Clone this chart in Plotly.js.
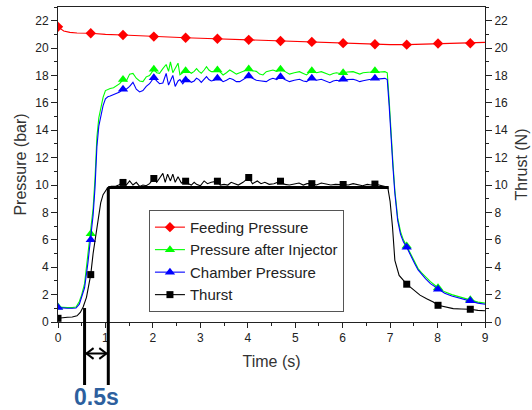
<!DOCTYPE html>
<html>
<head>
<meta charset="utf-8">
<script src="https://cdn.plot.ly/plotly-3.0.1.min.js"></script>
<style>html,body{margin:0;padding:0;background:#fff;}#chart{width:532px;height:410px;}</style>
</head>
<body>
<div id="chart"></div>
<script>
// ---------- data ----------
// Feeding pressure (bar)
const feedTime = [0, 0.05, 0.12, 0.25, 0.4, 0.69, 1.0, 1.37, 1.7, 2.02, 2.35, 2.69, 3.0, 3.36, 3.7, 4.02, 4.35, 4.69, 5.0, 5.35, 5.7, 6.01, 6.35, 6.68, 7.0, 7.35, 7.7, 8.01, 8.35, 8.69, 9.0];
const feedPressure = [21.55, 21.4, 21.25, 21.15, 21.1, 21.08, 21.0, 20.96, 20.9, 20.84, 20.8, 20.75, 20.72, 20.68, 20.63, 20.6, 20.56, 20.52, 20.5, 20.45, 20.4, 20.36, 20.3, 20.28, 20.25, 20.25, 20.28, 20.33, 20.33, 20.35, 20.42];

// Pressure after injector and chamber pressure (bar)
const presTime = [0, 0.1, 0.2, 0.3, 0.38, 0.45, 0.5, 0.56, 0.63, 0.69, 0.74, 0.78, 0.82, 0.86, 0.9, 0.95, 1.0, 1.05, 1.1, 1.17, 1.25, 1.3, 1.37, 1.44, 1.51, 1.58, 1.65, 1.72, 1.79, 1.86, 1.93, 2.02, 2.08, 2.14, 2.21, 2.28, 2.33, 2.37, 2.42, 2.47, 2.53, 2.57, 2.63, 2.69, 2.75, 2.81, 2.87, 2.92, 2.97, 3.02, 3.08, 3.13, 3.18, 3.23, 3.29, 3.36, 3.42, 3.48, 3.55, 3.62, 3.69, 3.76, 3.83, 3.9, 3.96, 4.02, 4.1, 4.18, 4.25, 4.32, 4.39, 4.46, 4.53, 4.61, 4.69, 4.78, 4.88, 4.98, 5.09, 5.17, 5.24, 5.34, 5.45, 5.55, 5.64, 5.73, 5.8, 5.87, 5.94, 6.01, 6.1, 6.22, 6.29, 6.36, 6.43, 6.5, 6.59, 6.68, 6.78, 6.89, 6.94, 6.98, 7.02, 7.06, 7.1, 7.16, 7.22, 7.28, 7.35, 7.44, 7.52, 7.59, 7.66, 7.75, 7.85, 8.01, 8.15, 8.3, 8.4, 8.55, 8.7, 8.85, 9.0];
const injectorPressure = [1.1, 1.05, 1.05, 1.05, 1.1, 1.5, 2.0, 2.8, 4.8, 6.45, 8.3, 10.5, 13.5, 14.9, 15.6, 16.4, 16.9, 17.0, 17.05, 17.1, 17.3, 17.4, 17.7, 17.6, 18.1, 18.15, 17.8, 17.6, 17.55, 17.9, 18.0, 18.45, 18.2, 18.16, 18.5, 18.8, 18.3, 19.0, 18.2, 18.5, 18.9, 18.05, 18.2, 18.35, 18.3, 18.16, 18.3, 18.5, 18.3, 18.16, 18.4, 18.64, 18.4, 18.28, 18.3, 18.4, 18.25, 18.04, 18.2, 18.4, 18.25, 18.1, 18.2, 18.3, 18.35, 18.47, 18.35, 18.3, 18.1, 18.04, 18.28, 18.35, 18.4, 18.3, 18.45, 18.3, 18.1, 18.2, 18.28, 18.15, 18.04, 18.35, 18.2, 18.28, 18.15, 18.04, 18.15, 18.2, 18.15, 18.2, 18.25, 18.28, 18.2, 18.1, 18.2, 18.2, 18.25, 18.35, 18.25, 18.28, 18.2, 16.2, 13.6, 11.6, 9.6, 7.6, 6.6, 6.0, 5.55, 4.9, 4.4, 3.9, 3.6, 3.3, 2.95, 2.5, 2.2, 2.0, 1.9, 1.75, 1.62, 1.45, 1.38];
const chamberPressure = [1.05, 1.0, 1.0, 1.0, 1.02, 1.3, 1.8, 2.5, 4.3, 6.0, 7.8, 9.8, 12.8, 14.3, 15.0, 15.8, 16.3, 16.45, 16.5, 16.6, 16.7, 16.8, 17.0, 17.0, 17.2, 17.5, 17.0, 16.8, 16.9, 17.2, 17.4, 17.84, 17.6, 17.4, 17.45, 18.15, 17.3, 17.6, 18.0, 17.2, 17.6, 17.7, 17.4, 17.67, 17.7, 17.5, 17.6, 17.8, 17.7, 17.5, 17.75, 17.92, 17.7, 17.6, 17.65, 17.8, 17.7, 17.55, 17.65, 17.79, 17.7, 17.55, 17.55, 17.7, 17.8, 17.96, 17.8, 17.65, 17.62, 17.6, 17.55, 17.7, 17.79, 17.7, 17.9, 17.7, 17.55, 17.65, 17.72, 17.6, 17.55, 17.8, 17.65, 17.72, 17.6, 17.47, 17.6, 17.65, 17.6, 17.72, 17.7, 17.72, 17.65, 17.55, 17.62, 17.65, 17.72, 17.8, 17.75, 17.79, 17.7, 15.8, 13.2, 11.3, 9.4, 7.4, 6.4, 5.85, 5.45, 4.75, 4.25, 3.8, 3.5, 3.15, 2.8, 2.4, 2.1, 1.9, 1.8, 1.65, 1.55, 1.38, 1.3];

// Thrust (N)
const thrustTime = [0, 0.1, 0.2, 0.3, 0.4, 0.47, 0.53, 0.6, 0.69, 0.74, 0.78, 0.82, 0.86, 0.9, 0.95, 1.0, 1.05, 1.12, 1.2, 1.28, 1.37, 1.44, 1.51, 1.58, 1.65, 1.72, 1.79, 1.86, 1.93, 2.02, 2.08, 2.14, 2.21, 2.26, 2.31, 2.37, 2.42, 2.47, 2.53, 2.6, 2.69, 2.75, 2.81, 2.87, 2.92, 3.0, 3.08, 3.15, 3.23, 3.36, 3.42, 3.5, 3.58, 3.65, 3.72, 3.8, 3.9, 4.02, 4.1, 4.2, 4.28, 4.36, 4.45, 4.55, 4.69, 4.78, 4.88, 4.98, 5.08, 5.17, 5.25, 5.34, 5.45, 5.55, 5.65, 5.75, 5.85, 6.01, 6.12, 6.22, 6.32, 6.42, 6.52, 6.6, 6.68, 6.78, 6.88, 6.95, 7.0, 7.05, 7.1, 7.19, 7.35, 7.5, 7.63, 7.77, 7.91, 8.01, 8.15, 8.33, 8.5, 8.69, 8.85, 9.0];
const thrust = [0.27, 0.33, 0.35, 0.37, 0.45, 0.7, 1.1, 1.8, 3.46, 5.0, 6.0, 7.0, 7.8, 8.7, 9.3, 9.6, 9.82, 9.9, 9.9, 10.0, 10.19, 10.0, 10.3, 10.0, 10.2, 9.9, 10.0, 9.95, 10.1, 10.48, 10.2, 10.5, 10.85, 10.2, 10.8, 10.3, 10.8, 10.2, 10.6, 10.15, 10.28, 10.1, 10.0, 10.2, 10.05, 9.95, 10.3, 10.1, 10.2, 10.28, 10.0, 10.05, 10.0, 10.2, 10.1, 10.0, 10.2, 10.55, 10.1, 10.3, 10.1, 10.2, 10.05, 10.1, 10.28, 10.05, 10.0, 10.1, 10.15, 10.0, 10.1, 10.1, 10.0, 10.15, 10.05, 10.0, 10.05, 10.04, 10.0, 10.1, 10.0, 9.95, 10.05, 10.0, 10.07, 10.0, 9.95, 9.85, 8.8, 6.95, 4.5, 3.4, 2.76, 2.3, 1.96, 1.7, 1.46, 1.22, 1.1, 0.98, 0.95, 0.93, 0.85, 0.82];

// Symbol positions (every ~2/3 s)
const markerTime = [0, 0.69, 1.37, 2.02, 2.69, 3.36, 4.02, 4.69, 5.35, 6.01, 6.68, 7.35, 8.01, 8.69];
const feedMarkers = [21.55, 21.08, 20.96, 20.84, 20.75, 20.68, 20.6, 20.52, 20.45, 20.36, 20.28, 20.25, 20.33, 20.35];
const injectorMarkers = [1.1, 6.45, 17.7, 18.45, 18.35, 18.4, 18.47, 18.45, 18.35, 18.2, 18.35, 5.55, 2.5, 1.62];
const chamberMarkers = [1.05, 6.0, 17.0, 17.84, 17.67, 17.8, 17.96, 17.9, 17.8, 17.72, 17.8, 5.45, 2.4, 1.55];
const thrustMarkers = [0.27, 3.46, 10.19, 10.48, 10.28, 10.28, 10.55, 10.28, 10.1, 10.04, 10.07, 2.76, 1.22, 0.93];

// Idealised thrust step and 0.5 s delay annotation
const ignitionTime = 0.56, stepTime = 1.06, stepEnd = 6.97, stepLevel = 9.82, ignitionLevel = 1.02;
const seriesNames = ['Feeding Pressure', 'Pressure after Injector', 'Chamber Pressure', 'Thurst'];
const delayLabel = '0.5s';

// ---------- chart ----------
const FONT = 'Arial, "Liberation Sans", sans-serif';
const YMAX = 23;
const styles = [
  {color: '#ff0000', symbol: 'diamond', size: 8, yaxis: 'y'},
  {color: '#00ff00', symbol: 'triangle-up', size: 9, yaxis: 'y'},
  {color: '#0000ff', symbol: 'triangle-up', size: 9, yaxis: 'y'},
  {color: '#000000', symbol: 'square', size: 7, yaxis: 'y2'}
];
const series = [
  [feedTime, feedPressure, feedMarkers],
  [presTime, injectorPressure, injectorMarkers],
  [presTime, chamberPressure, chamberMarkers],
  [thrustTime, thrust, thrustMarkers]
];
const traces = [];
series.forEach((s, i) => {
  const st = styles[i];
  traces.push({x: s[0], y: s[1], yaxis: st.yaxis, mode: 'lines', showlegend: false,
    line: {color: st.color, width: 1.1}, hoverinfo: 'skip'});
  traces.push({x: markerTime, y: s[2], yaxis: st.yaxis, mode: 'markers', showlegend: false,
    marker: {color: st.color, symbol: st.symbol, size: st.size}});
});
series.forEach((s, i) => {
  const st = styles[i];
  traces.push({x: [null], y: [null], yaxis: st.yaxis, name: seriesNames[i], mode: 'lines+markers',
    line: {color: st.color, width: 1.1}, marker: {color: st.color, symbol: st.symbol, size: st.size}});
});

const axisCommon = {
  showline: true, linecolor: '#222', linewidth: 1, ticks: 'outside', tickcolor: '#222',
  tickfont: {family: FONT, size: 12, color: '#222'}, zeroline: false, showgrid: false
};
const low = -0.2; // paper y where the thick markers end below the axis
const arrowY = -0.1;
const layout = {
  width: 532, height: 410,
  margin: {l: 58, r: 47, t: 7, b: 88},
  paper_bgcolor: '#fff', plot_bgcolor: '#fff',
  font: {family: FONT, color: '#333'},
  showlegend: true,
  legend: {x: 0.213, y: 0.194, xanchor: 'left', yanchor: 'middle', bgcolor: '#fff',
    bordercolor: '#555', borderwidth: 1, font: {family: FONT, size: 15, color: '#222'},
    tracegroupgap: 0},
  xaxis: Object.assign({}, axisCommon, {range: [0, 9], dtick: 1, ticklen: 5, mirror: true,
    minor: {dtick: 0.5, ticks: 'outside', ticklen: 3, tickcolor: '#222'},
    title: {text: 'Time (s)', font: {family: FONT, size: 16, color: '#333'}, standoff: 11}}),
  yaxis: Object.assign({}, axisCommon, {range: [0, YMAX], dtick: 2, ticklen: 6,
    minor: {dtick: 1, ticks: 'outside', ticklen: 3, tickcolor: '#222'},
    title: {text: 'Pressure (bar)', font: {family: FONT, size: 16, color: '#333'}, standoff: 4}}),
  yaxis2: Object.assign({}, axisCommon, {range: [0, YMAX], dtick: 2, ticklen: 6, overlaying: 'y', side: 'right',
    minor: {dtick: 1, ticks: 'outside', ticklen: 3, tickcolor: '#222'},
    title: {text: 'Thrust (N)', font: {family: FONT, size: 16, color: '#333'}, standoff: 8}}),
  shapes: [
    {type: 'line', xref: 'x', yref: 'y', x0: stepTime, x1: stepEnd, y0: stepLevel, y1: stepLevel,
      line: {color: '#000', width: 3}, layer: 'below'},
    {type: 'line', xref: 'x', yref: 'paper', x0: stepTime, x1: stepTime, y0: low, y1: stepLevel / YMAX,
      line: {color: '#000', width: 3}},
    {type: 'line', xref: 'x', yref: 'paper', x0: ignitionTime, x1: ignitionTime, y0: low, y1: ignitionLevel / YMAX,
      line: {color: '#000', width: 3}},
    {type: 'line', xref: 'x', yref: 'paper', x0: ignitionTime + 0.03, x1: stepTime - 0.03, y0: arrowY, y1: arrowY,
      line: {color: '#000', width: 2}},
    {type: 'path', xref: 'x', yref: 'paper',
      path: `M ${ignitionTime + 0.19},${arrowY + 0.017} L ${ignitionTime + 0.04},${arrowY} L ${ignitionTime + 0.19},${arrowY - 0.017}`,
      line: {color: '#000', width: 2}},
    {type: 'path', xref: 'x', yref: 'paper',
      path: `M ${stepTime - 0.19},${arrowY + 0.017} L ${stepTime - 0.04},${arrowY} L ${stepTime - 0.19},${arrowY - 0.017}`,
      line: {color: '#000', width: 2}}
  ],
  annotations: [
    {xref: 'x', yref: 'paper', x: (ignitionTime + stepTime) / 2, y: -0.238, text: '<b>' + delayLabel + '</b>',
      showarrow: false, font: {family: FONT, size: 23, color: '#2d5f9e'}, xanchor: 'center', yanchor: 'middle'}
  ]
};
Plotly.newPlot('chart', traces, layout, {displayModeBar: false, staticPlot: true});
</script>
</body>
</html>
